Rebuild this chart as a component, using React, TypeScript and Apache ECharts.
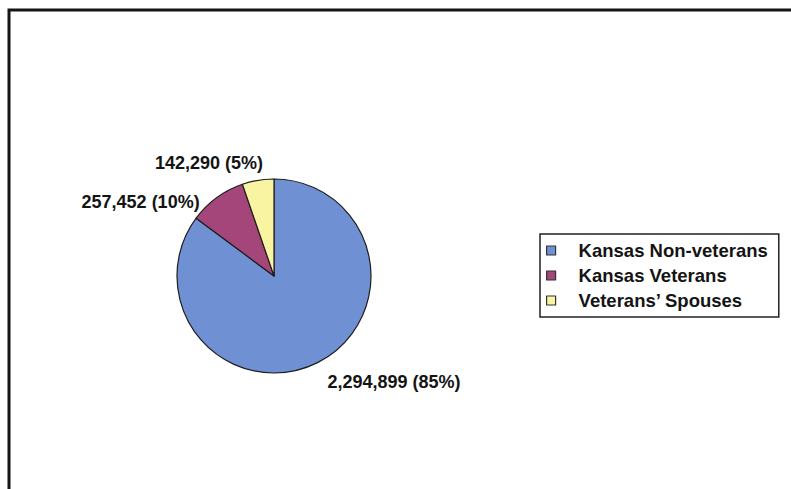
import React, { useEffect, useRef } from "react";
import * as echarts from "echarts";

const categories = ["Kansas Non-veterans", "Kansas Veterans", "Veterans\u2019 Spouses"];
const values = [2294899, 257452, 142290];
const colors = ["#7090d4", "#a4467a", "#f8f4a2"];
// per-slice label offsets (label-line lengths used only to place the text)
const labelLen = [22, -5, 17.6];
const labelLen2 = [0, 20, -8];

export default function App() {
  const ref = useRef<HTMLDivElement>(null);
  useEffect(() => {
    if (!ref.current) return;
    const chart = echarts.init(ref.current, null, { renderer: "svg" });
    const font = "'Liberation Sans', Arial, sans-serif";
    chart.setOption({
      animation: false,
      backgroundColor: "#ffffff",
      graphic: [
        {
          type: "rect",
          shape: { x: 9, y: 10, width: 900, height: 600 },
          style: { fill: "none", stroke: "#151515", lineWidth: 3 },
          silent: true,
        },
      ],
      legend: {
        orient: "vertical",
        left: 540,
        top: 234,
        padding: [7, 11, 7, 6],
        itemGap: 6,
        itemWidth: 9,
        itemHeight: 9,
        icon: "rect",
        borderColor: "#222",
        borderWidth: 1.5,
        data: categories,
        itemStyle: { borderColor: "#333", borderWidth: 1.2 },
        textStyle: {
          fontFamily: font,
          fontWeight: "bold",
          fontSize: 18.5,
          color: "#141414",
          padding: [0, 0, 0, 18],
        },
      },
      series: [
        {
          type: "pie",
          center: [274, 276],
          radius: 97,
          startAngle: 90,
          clockwise: true,
          avoidLabelOverlap: false,
          itemStyle: { borderColor: "#1e1e1e", borderWidth: 1.2 },
          label: {
            show: true,
            position: "outside",
            distanceToLabelLine: 0,
            fontFamily: font,
            fontWeight: "bold",
            fontSize: 18,
            color: "#141414",
            formatter: (p: any) =>
              `${Number(p.value).toLocaleString("en-US")} (${Math.round(p.percent)}%)`,
          },
          labelLine: { show: false },
          data: categories.map((name, i) => ({
            name,
            value: values[i],
            itemStyle: { color: colors[i] },
            labelLine: { show: false, length: labelLen[i], length2: labelLen2[i] },
          })),
        },
      ],
    });
    return () => chart.dispose();
  }, []);
  return (
    <div
      ref={ref}
      style={{ position: "absolute", left: 0, top: 0, width: 791, height: 489 }}
    />
  );
}
